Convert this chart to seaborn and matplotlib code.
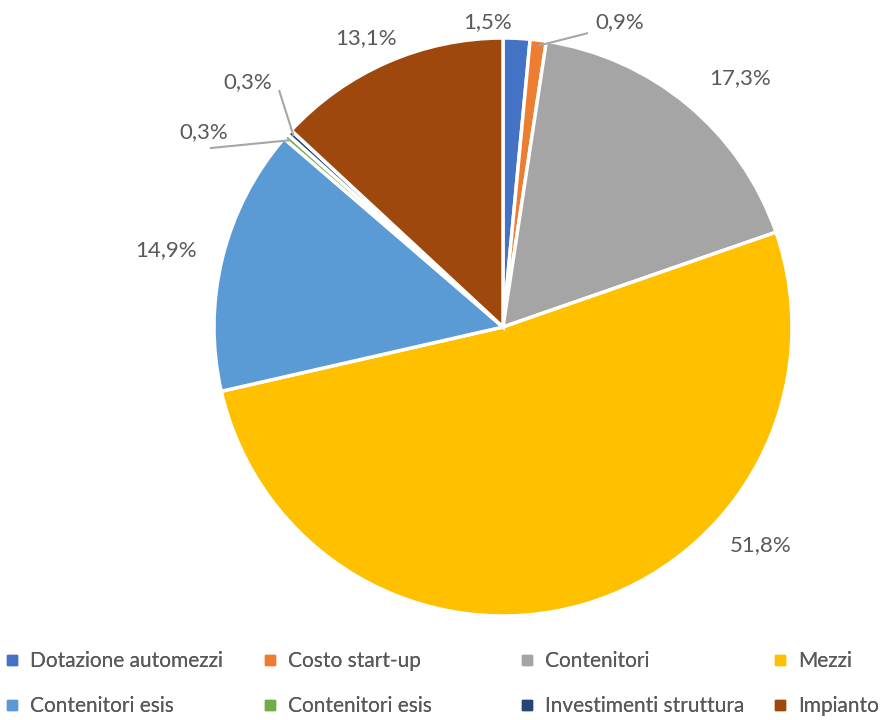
import matplotlib
matplotlib.use("Agg")
import matplotlib.pyplot as plt
from matplotlib.lines import Line2D
import seaborn as sns
import numpy as np

# Spending breakdown (%)
categories = ["Dotazione automezzi", "Costo start-up", "Contenitori", "Mezzi",
              "Contenitori esis", "Contenitori esis", "Investimenti struttura", "Impianto"]
shares = [1.5, 0.9, 17.3, 51.8, 14.9, 0.3, 0.3, 13.1]
colors = ["#4472C4", "#ED7D31", "#A5A5A5", "#FFC000",
          "#5B9BD5", "#70AD47", "#264478", "#9E480E"]

# Label placement (axes data units, pie radius = 1) and optional leader-line ends
label_pos = [(-0.055, 1.055), (0.405, 1.055), (0.820, 0.860), (0.893, -0.754),
             (-1.166, 0.266), (-1.035, 0.675), (-0.882, 0.848), (-0.474, 1.000)]
leader_end = [None, (0.294, 1.017), None, None, None, (-1.014, 0.619), (-0.775, 0.820), None]

sns.set_theme(style="white")
plt.rcParams["font.family"] = ["Lato", "DejaVu Sans"]
text_color = "#595959"

W, H = 890, 720
fig = plt.figure(figsize=(W / 100, H / 100), dpi=100)
cx, cy, r = 503, 327, 289
ax = fig.add_axes([(cx - r) / W, (H - cy - r) / H, 2 * r / W, 2 * r / H])

wedges, _ = ax.pie(shares, colors=colors, startangle=90, counterclock=False,
                   radius=1.0, wedgeprops=dict(edgecolor="white", linewidth=2.5))
ax.set_xlim(-1, 1)
ax.set_ylim(-1, 1)
ax.set_aspect("equal")
ax.axis("off")

for w, val, pos, end in zip(wedges, shares, label_pos, leader_end):
    txt = f"{val:.1f}%".replace(".", ",")
    ax.text(pos[0], pos[1], txt, ha="center", va="center", fontsize=16,
            color=text_color, clip_on=False)
    if end is not None:
        mid = np.deg2rad((w.theta1 + w.theta2) / 2)
        sx, sy = 0.98 * np.cos(mid), 0.98 * np.sin(mid)
        ax.plot([sx, end[0]], [sy, end[1]], color="#A6A6A6", lw=1.5,
                clip_on=False, solid_capstyle="butt")

# Legend: four equal-width columns, two rows
col_x = [10, 268, 525, 778]
for c in range(4):
    idx = [c, c + 4]
    handles = [Line2D([], [], marker="s", linestyle="none", markersize=7,
                      markerfacecolor=colors[i], markeredgecolor=colors[i]) for i in idx]
    leg = fig.legend(handles, [categories[i] for i in idx], loc="upper left",
                     bbox_to_anchor=((col_x[c] - 6) / W, 1 - 651 / H),
                     frameon=False, fontsize=15, handlelength=0.8,
                     handletextpad=0.45, borderpad=0, borderaxespad=0,
                     labelspacing=1.2, labelcolor=text_color)
    fig.add_artist(leg)

fig.savefig("out.png", dpi=100, facecolor="white")
